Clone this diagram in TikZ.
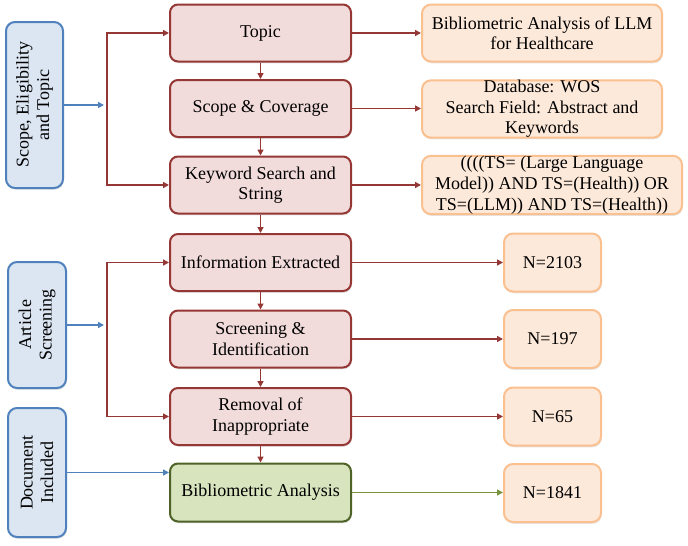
\documentclass[tikz,border=0pt]{standalone}
\usepackage{fontspec}
\setmainfont{Liberation Serif}
\usetikzlibrary{arrows.meta,shadows,calc}
\definecolor{redc}{HTML}{953735}
\definecolor{redf}{HTML}{F2DCDB}
\definecolor{orc}{HTML}{FAC090}
\definecolor{orf}{HTML}{FDE9D9}
\definecolor{bluc}{HTML}{4F81BD}
\definecolor{bluf}{HTML}{DCE6F2}
\definecolor{grc}{HTML}{4F6228}
\definecolor{grf}{HTML}{D7E4BD}
\definecolor{gra}{HTML}{77933C}
\begin{document}
\begin{tikzpicture}[x=1pt,y=-1pt,
  every node/.style={font=\fontsize{18}{20.5}\selectfont, align=center, inner sep=0pt},
  softshadow/.style={drop shadow={shadow xshift=0.8pt, shadow yshift=-1.8pt, opacity=0.2}},
  redbox/.style={draw=redc, fill=redf, line width=2pt, rounded corners=8pt, minimum width=181pt, minimum height=57pt, softshadow},
  grbox/.style={draw=grc, fill=grf, line width=2pt, rounded corners=8pt, minimum width=181pt, minimum height=58pt, softshadow},
  orbox/.style={draw=orc, fill=orf, line width=2pt, rounded corners=9pt, minimum height=57pt, softshadow},
  blbox/.style={draw=bluc, fill=bluf, line width=2pt, rounded corners=9pt, rotate=90, softshadow},
  tipx/.tip={Triangle[length=6pt,width=6pt]},
  redarr/.style={draw=redc, line width=1.8pt, -tipx},
  bluarr/.style={draw=bluc, line width=1.8pt, -tipx},
  grarr/.style={draw=gra, line width=1.8pt, -tipx}
]
\useasboundingbox (0,0) rectangle (688,546);

% red process boxes
\node[redbox] (topic) at (260.5,33) {Topic};
\node[redbox] (scope) at (260.5,108.5) {Scope \& Coverage};
\node[redbox] (keyword) at (260.5,185) {Keyword Search and\\String};
\node[redbox] (info) at (260.5,262.5) {Information Extracted};
\node[redbox] (screen) at (260.5,339) {Screening \&\\Identification};
\node[redbox] (removal) at (260.5,416.5) {Removal of\\Inappropriate};
\node[grbox] (biblio) at (260.5,492.5) {Bibliometric Analysis};

% orange result boxes
\node[orbox, minimum width=240pt] (o1) at (542,33) {Bibliometric Analysis of LLM\\for Healthcare};
\node[orbox, minimum width=240pt] (o2) at (542,109) {Database: WOS\\Search Field: Abstract and\\Keywords};
\node[orbox, minimum width=260pt, minimum height=56pt, font=\fontsize{18}{21}\selectfont] (o3) at (552,185) {((((TS= (Large Language\\Model)) AND TS=(Health)) OR\\TS=(LLM)) AND TS=(Health))};
\node[orbox, minimum width=97pt, minimum height=58pt] (n1) at (552.5,262.5) {N=2103};
\node[orbox, minimum width=97pt, minimum height=58pt] (n2) at (552.5,339) {N=197};
\node[orbox, minimum width=97pt, minimum height=58pt] (n3) at (552.5,416.5) {N=65};
\node[orbox, minimum width=97pt, minimum height=58pt] (n4) at (552.5,493) {N=1841};

% blue phase boxes (rotated)
\node[blbox, minimum width=166pt, minimum height=57pt] (b1) at (34.5,105) {Scope, Eligibility\\and Topic};
\node[blbox, minimum width=126pt, minimum height=58pt] (b2) at (37,325) {Article\\Screening};
\node[blbox, minimum width=129pt, minimum height=58pt] (b3) at (37,472.5) {Document\\Included};

% junction coordinates
\coordinate (j1) at (107,105);
\coordinate (j2) at (107,325);

% blue arrows
\draw[bluarr] (b1.south) -- ($(j1)+(-3,0)$);
\draw[bluarr] (b2.south) -- ($(j2)+(-3,0)$);
\draw[bluarr] (b3.south) -- (b3.south -| biblio.west);

% red brackets
\draw[draw=redc, line width=1.8pt, tipx-tipx] (topic.west) -- (topic.west -| j1) -- (keyword.west -| j1) -- (keyword.west);
\draw[draw=redc, line width=1.8pt, tipx-tipx] (info.west) -- (info.west -| j2) -- (removal.west -| j2) -- (removal.west);

% vertical flow
\draw[redarr] (topic) -- (scope);
\draw[redarr] (scope) -- (keyword);
\draw[redarr] (keyword) -- (info);
\draw[redarr] (info) -- (screen);
\draw[redarr] (screen) -- (removal);
\draw[redarr] (removal) -- (biblio);

% outputs
\draw[redarr] (topic.east) -- (o1.west |- topic.east);
\draw[redarr] (scope.east) -- (o2.west |- scope.east);
\draw[redarr] (keyword.east) -- (o3.west |- keyword.east);
\draw[redarr] (info.east) -- (n1.west |- info.east);
\draw[redarr] (screen.east) -- (n2.west |- screen.east);
\draw[redarr] (removal.east) -- (n3.west |- removal.east);
\draw[grarr] (biblio.east) -- (n4.west |- biblio.east);
\end{tikzpicture}
\end{document}
